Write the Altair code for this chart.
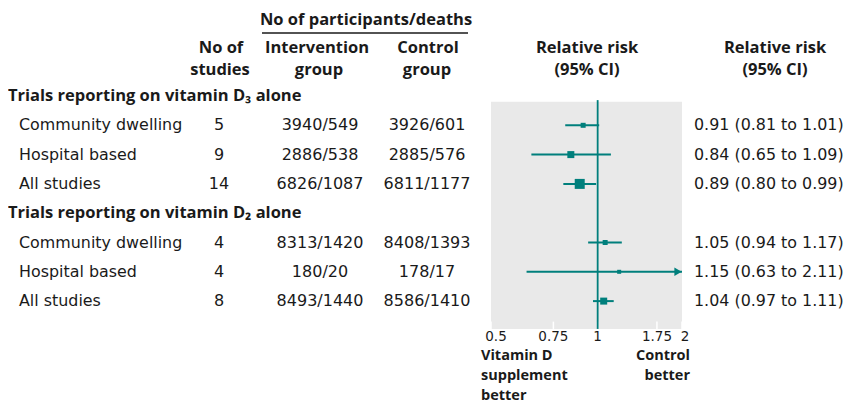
import altair as alt
import pandas as pd

# ---- data ----
labels = ["Community dwelling", "Hospital based", "All studies",
          "Community dwelling", "Hospital based", "All studies"]
rows = [1, 2, 3, 5, 6, 7]
n_studies = [5, 9, 14, 4, 4, 8]
intervention = ["3940/549", "2886/538", "6826/1087", "8313/1420", "180/20", "8493/1440"]
control = ["3926/601", "2885/576", "6811/1177", "8408/1393", "178/17", "8586/1410"]
rr = [0.91, 0.84, 0.89, 1.05, 1.15, 1.04]
lo = [0.81, 0.65, 0.80, 0.94, 0.63, 0.97]
hi = [1.01, 1.09, 0.99, 1.17, 2.11, 1.11]
weight = [5, 7, 10, 5, 4, 7]
sections = ["Trials reporting on vitamin D\u2083 alone", "Trials reporting on vitamin D\u2082 alone"]
section_rows = [0, 4]
tick_values = [0.5, 0.75, 1, 1.47, 1.73]
tick_labels = ["0.5", "0.75", "1", "1.75", "2"]
x_min, x_max = 0.5, 1.73

TEAL = "#007f7c"
GREY = "#e9e9e9"
INK = "#1a1a1a"
BODY = "DejaVu Sans"
BOLD = "Open Sans"
FS = 16
FB = 16.5

df = pd.DataFrame({
    "label": labels, "row": rows, "n": [str(v) for v in n_studies],
    "inter": intervention, "ctrl": control, "rr": rr, "lo": lo, "hi": hi,
    "w": weight,
})
df["txt"] = [f"{a:.2f} ({b:.2f} to {c:.2f})" for a, b, c in zip(rr, lo, hi)]
df["hi_c"] = [min(v, x_max) for v in hi]
df["lo_c"] = [max(v, x_min) for v in lo]
df["size"] = [v * v for v in weight]

sec = pd.DataFrame({"label": sections, "row": section_rows})
ticks = pd.DataFrame({"v": tick_values, "lab": tick_labels,
                      "dx": [5, 0, 0, 0, 3]})

XS = alt.Scale(type="log", domain=[x_min, x_max], range=[483, 674])
YS = alt.Scale(domain=[0, 7], range=[88, 88 + 7 * 29.3])

def yrow(field="row"):
    return alt.Y(f"{field}:Q", scale=YS, axis=None)

base = alt.Chart(df)

panel = alt.Chart(pd.DataFrame({"x": [x_min], "x2": [x_max], "y": [0.2], "y2": [7.95]})).mark_rect(
    color=GREY).encode(
    x=alt.X("x:Q", scale=XS, axis=None), x2="x2:Q",
    y=alt.Y("y:Q", scale=YS, axis=None), y2="y2:Q")

tick_marks = alt.Chart(ticks).mark_rule(color="white", strokeWidth=1.5).encode(
    x=alt.X("v:Q", scale=XS, axis=None),
    y=alt.value(88 + 7.7 * 29.3), y2=alt.value(88 + 7.95 * 29.3))

ref_line = alt.Chart(pd.DataFrame({"x": [1.0], "y": [0.14], "y2": [7.95]})).mark_rule(
    color=TEAL, strokeWidth=1.8).encode(
    x=alt.X("x:Q", scale=XS, axis=None),
    y=alt.Y("y:Q", scale=YS, axis=None), y2="y2:Q")

ci = base.mark_rule(color=TEAL, strokeWidth=2).encode(
    x=alt.X("lo_c:Q", scale=XS, axis=None), x2="hi_c:Q", y=yrow())

arrow = base.transform_filter(f"datum.hi > {x_max}").mark_point(
    shape="triangle-right", filled=True, color=TEAL, size=70, opacity=1).encode(
    x=alt.X("hi_c:Q", scale=XS, axis=None), y=yrow(), xOffset=alt.value(-4))

sq = base.mark_square(color=TEAL, opacity=1).encode(
    x=alt.X("rr:Q", scale=XS, axis=None), y=yrow(),
    size=alt.Size("size:Q", scale=None, legend=None))

def col(field, x, align, fs=FS):
    return base.mark_text(font=BODY, fontSize=fs, color=INK, align=align, baseline="middle").encode(
        x=alt.value(x), y=yrow(), text=f"{field}:N")

lab_t = col("label", 11, "left", 15.9)
n_t = col("n", 211, "center")
i_t = col("inter", 312, "center")
c_t = col("ctrl", 419, "center")
r_t = col("txt", 686, "left", 15.9)

sec_t = alt.Chart(sec).mark_text(font=BOLD, fontSize=FB, fontWeight="bold", color=INK,
                                 align="left", baseline="middle").encode(
    x=alt.value(0), y=yrow(), text="label:N")

tick_layers = []
for dx in sorted(set(ticks["dx"])):
    tick_layers.append(
        alt.Chart(ticks).transform_filter(f"datum.dx == {dx}").mark_text(
            font=BODY, fontSize=13.5, color=INK, baseline="middle", dx=dx).encode(
            x=alt.X("v:Q", scale=XS, axis=None), y=alt.value(329), text="lab:N"))

hdr = pd.DataFrame({
    "t": ["No of participants/deaths", "No of", "studies", "Intervention", "group",
          "Control", "group", "Relative risk", "(95% CI)", "Relative risk", "(95% CI)"],
    "x": [358, 213, 212, 309, 311, 420, 419, 579, 579, 767, 767],
    "y": [12, 40, 62, 40, 62, 40, 62, 40, 62, 40, 62],
})
hdr_t = alt.Chart(hdr).mark_text(font=BOLD, fontSize=FB, fontWeight="bold", color=INK,
                                 align="center", baseline="middle").encode(
    x=alt.X("x:Q", scale=None), y=alt.Y("y:Q", scale=None), text="t:N")

underline = alt.Chart(pd.DataFrame({"x": [254], "x2": [460], "y": [25]})).mark_rule(
    color=INK, strokeWidth=1.3).encode(
    x=alt.X("x:Q", scale=None), x2="x2:Q", y=alt.Y("y:Q", scale=None))

foot = pd.DataFrame({
    "t": ["Vitamin D", "supplement", "better", "Control", "better"],
    "x": [473, 473, 473, 682, 682],
    "y": [348, 368, 388, 348, 368],
    "a": ["left", "left", "left", "right", "right"],
})
FF = 14.5
foot_l = alt.Chart(foot[foot.a == "left"]).mark_text(font=BOLD, fontSize=FF, fontWeight="bold",
                                                     color=INK, align="left", baseline="middle").encode(
    x=alt.X("x:Q", scale=None), y=alt.Y("y:Q", scale=None), text="t:N")
foot_r = alt.Chart(foot[foot.a == "right"]).mark_text(font=BOLD, fontSize=FF, fontWeight="bold",
                                                      color=INK, align="right", baseline="middle").encode(
    x=alt.X("x:Q", scale=None), y=alt.Y("y:Q", scale=None), text="t:N")

chart = alt.layer(
    panel, tick_marks, ref_line, ci, arrow, sq,
    lab_t, n_t, i_t, c_t, r_t, sec_t, *tick_layers, hdr_t, underline, foot_l, foot_r,
).resolve_scale(x="independent", y="independent").properties(
    width=837, height=398, padding=0, autosize=alt.AutoSizeParams(type="none"),
    background="white",
).configure_view(stroke=None)

chart.save("out.html", embed_options={"renderer": "svg", "actions": False})
